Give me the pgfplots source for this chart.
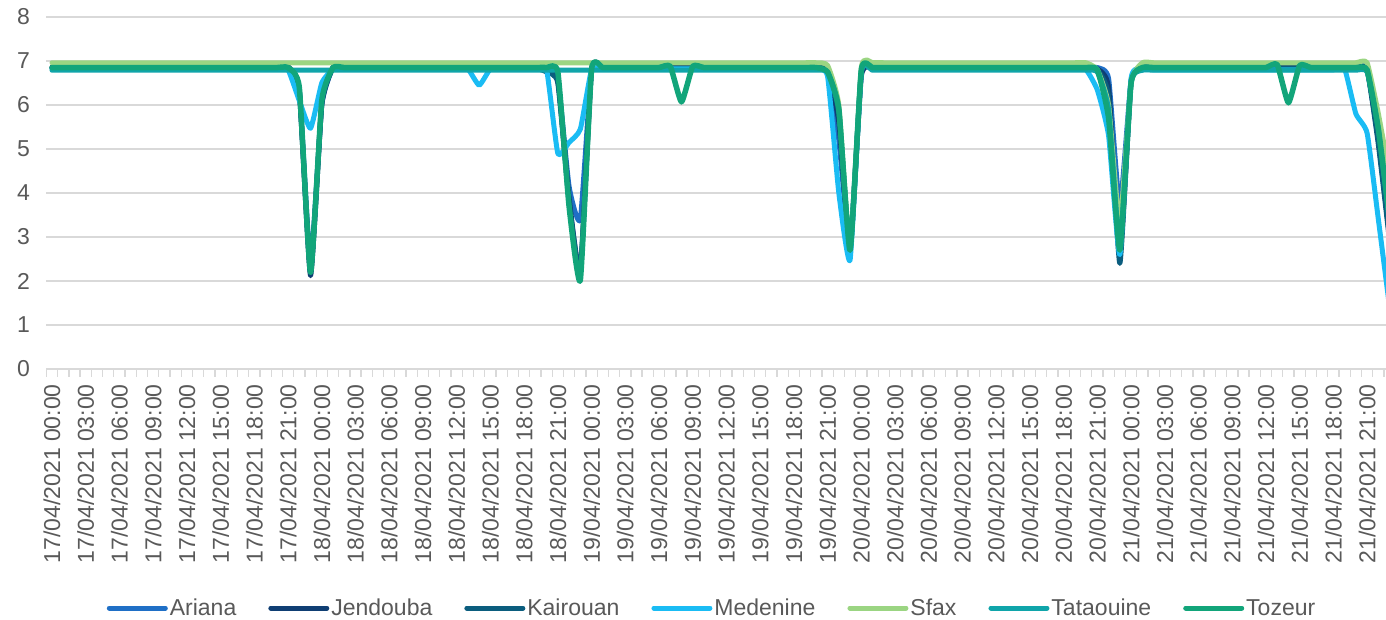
\documentclass[border=0pt]{standalone}
\usepackage{pgfplots}
\pgfplotsset{compat=1.18}
\usepackage{pgfplotstable}
\usepackage{fontspec}
\setmainfont{Liberation Sans}
\definecolor{cAriana}{RGB}{31,111,198}
\definecolor{cJendouba}{RGB}{15,62,115}
\definecolor{cKairouan}{RGB}{11,93,126}
\definecolor{cMedenine}{RGB}{26,188,244}
\definecolor{cSfax}{RGB}{155,213,130}
\definecolor{cTataouine}{RGB}{16,165,170}
\definecolor{cTozeur}{RGB}{18,165,122}
\definecolor{txt}{RGB}{89,89,89}
\definecolor{gridc}{RGB}{217,217,217}

\pgfplotstableread{
h A J K M S Ta To
0 6.85 6.86 6.84 6.82 6.96 6.79 6.85
1 6.85 6.86 6.84 6.82 6.96 6.79 6.85
2 6.85 6.86 6.84 6.82 6.96 6.79 6.85
3 6.85 6.86 6.84 6.82 6.96 6.79 6.85
4 6.85 6.86 6.84 6.82 6.96 6.79 6.85
5 6.85 6.86 6.84 6.82 6.96 6.79 6.85
6 6.85 6.86 6.84 6.82 6.96 6.79 6.85
7 6.85 6.86 6.84 6.82 6.96 6.79 6.85
8 6.85 6.86 6.84 6.82 6.96 6.79 6.85
9 6.85 6.86 6.84 6.82 6.96 6.79 6.85
10 6.85 6.86 6.84 6.82 6.96 6.79 6.85
11 6.85 6.86 6.84 6.82 6.96 6.79 6.85
12 6.85 6.90 6.84 6.82 6.96 6.79 6.85
13 6.85 6.90 6.84 6.82 6.96 6.79 6.85
14 6.85 6.90 6.84 6.82 6.96 6.79 6.85
15 6.85 6.90 6.84 6.82 6.96 6.79 6.85
16 6.85 6.90 6.84 6.82 6.96 6.79 6.85
17 6.85 6.90 6.84 6.82 6.96 6.79 6.85
18 6.85 6.90 6.84 6.82 6.96 6.79 6.85
19 6.85 6.90 6.84 6.82 6.96 6.79 6.85
20 6.85 6.90 6.84 6.82 6.96 6.79 6.85
21 6.85 6.88 6.84 6.80 6.96 6.79 6.85
22 6.35 6.30 6.35 6.10 6.96 6.79 6.40
23 2.40 2.12 2.20 5.47 6.96 6.79 2.20
24 6.00 6.00 6.05 6.50 6.96 6.79 6.10
25 6.85 6.86 6.84 6.82 6.96 6.79 6.85
26 6.85 6.86 6.84 6.82 6.96 6.79 6.85
27 6.85 6.86 6.84 6.82 6.96 6.79 6.85
28 6.85 6.86 6.84 6.82 6.96 6.79 6.85
29 6.85 6.86 6.84 6.82 6.96 6.79 6.85
30 6.85 6.86 6.84 6.82 6.96 6.79 6.85
31 6.85 6.86 6.84 6.82 6.96 6.79 6.85
32 6.85 6.86 6.84 6.82 6.96 6.79 6.85
33 6.85 6.86 6.84 6.82 6.96 6.79 6.85
34 6.85 6.86 6.84 6.82 6.96 6.79 6.85
35 6.85 6.86 6.84 6.82 6.96 6.79 6.85
36 6.85 6.86 6.84 6.82 6.96 6.79 6.85
37 6.85 6.86 6.84 6.82 6.96 6.79 6.85
38 6.85 6.86 6.84 6.45 6.96 6.79 6.85
39 6.85 6.86 6.84 6.82 6.96 6.79 6.85
40 6.85 6.86 6.84 6.82 6.96 6.79 6.85
41 6.85 6.86 6.84 6.82 6.96 6.79 6.85
42 6.85 6.86 6.84 6.82 6.96 6.79 6.85
43 6.85 6.86 6.84 6.82 6.96 6.79 6.85
44 6.85 6.80 6.75 6.80 6.96 6.79 6.85
45 6.60 6.55 6.50 4.90 6.96 6.79 6.75
46 4.15 3.90 3.80 5.15 6.96 6.79 3.70
47 3.40 2.20 2.25 5.45 6.96 6.79 2.02
48 6.80 6.80 6.80 6.80 6.96 6.79 6.80
49 6.85 6.86 6.84 6.82 6.96 6.79 6.85
50 6.85 6.86 6.84 6.82 6.96 6.79 6.85
51 6.85 6.86 6.84 6.82 6.96 6.79 6.85
52 6.85 6.86 6.84 6.82 6.96 6.79 6.85
53 6.85 6.86 6.84 6.82 6.96 6.79 6.85
54 6.85 6.86 6.84 6.82 6.96 6.79 6.85
55 6.85 6.86 6.84 6.82 6.96 6.79 6.88
56 6.85 6.86 6.84 6.82 6.96 6.79 6.07
57 6.85 6.86 6.84 6.82 6.96 6.79 6.88
58 6.85 6.86 6.84 6.82 6.96 6.79 6.85
59 6.85 6.86 6.84 6.82 6.96 6.79 6.85
60 6.85 6.86 6.84 6.82 6.96 6.79 6.85
61 6.85 6.86 6.84 6.82 6.96 6.79 6.85
62 6.85 6.86 6.84 6.82 6.96 6.79 6.85
63 6.85 6.86 6.84 6.82 6.96 6.79 6.85
64 6.85 6.86 6.84 6.82 6.96 6.79 6.85
65 6.85 6.86 6.84 6.82 6.96 6.79 6.85
66 6.85 6.86 6.84 6.82 6.96 6.79 6.85
67 6.85 6.86 6.84 6.82 6.96 6.79 6.85
68 6.85 6.86 6.84 6.82 6.96 6.79 6.85
69 6.80 6.80 6.80 6.65 6.90 6.75 6.75
70 5.20 5.60 5.80 4.00 6.00 5.90 5.90
71 2.80 2.70 2.70 2.48 2.75 2.70 2.70
72 6.75 6.65 6.75 6.75 6.85 6.75 6.80
73 6.85 6.86 6.84 6.82 6.96 6.79 6.85
74 6.85 6.86 6.84 6.82 6.96 6.79 6.85
75 6.85 6.86 6.84 6.82 6.96 6.79 6.85
76 6.85 6.86 6.84 6.82 6.96 6.79 6.85
77 6.85 6.86 6.84 6.82 6.96 6.79 6.85
78 6.85 6.86 6.84 6.82 6.96 6.79 6.85
79 6.85 6.86 6.84 6.82 6.96 6.79 6.85
80 6.85 6.86 6.84 6.82 6.96 6.79 6.85
81 6.85 6.86 6.84 6.82 6.96 6.79 6.85
82 6.85 6.86 6.84 6.82 6.96 6.79 6.85
83 6.85 6.86 6.84 6.82 6.96 6.79 6.85
84 6.85 6.86 6.84 6.82 6.96 6.79 6.85
85 6.85 6.86 6.84 6.82 6.96 6.79 6.85
86 6.85 6.86 6.84 6.82 6.96 6.79 6.85
87 6.85 6.86 6.84 6.82 6.96 6.79 6.85
88 6.85 6.86 6.84 6.82 6.96 6.79 6.85
89 6.85 6.86 6.84 6.82 6.96 6.79 6.85
90 6.85 6.86 6.84 6.82 6.96 6.79 6.85
91 6.85 6.86 6.84 6.82 6.96 6.79 6.85
92 6.85 6.86 6.84 6.80 6.96 6.79 6.85
93 6.85 6.82 6.80 6.34 6.80 6.75 6.80
94 6.60 6.40 6.20 5.30 6.00 5.90 5.70
95 3.70 2.60 2.40 2.60 3.30 2.80 2.70
96 6.55 6.55 6.50 6.60 6.50 6.50 6.50
97 6.85 6.86 6.84 6.80 6.96 6.79 6.85
98 6.85 6.86 6.84 6.80 6.96 6.79 6.85
99 6.85 6.86 6.84 6.80 6.96 6.79 6.85
100 6.85 6.86 6.84 6.80 6.96 6.79 6.85
101 6.85 6.86 6.84 6.80 6.96 6.79 6.85
102 6.85 6.86 6.84 6.80 6.96 6.79 6.85
103 6.85 6.86 6.84 6.80 6.96 6.79 6.85
104 6.85 6.86 6.84 6.80 6.96 6.79 6.85
105 6.85 6.86 6.84 6.80 6.96 6.79 6.85
106 6.85 6.86 6.84 6.80 6.96 6.79 6.85
107 6.85 6.86 6.84 6.80 6.96 6.79 6.85
108 6.85 6.86 6.84 6.80 6.96 6.79 6.85
109 6.85 6.86 6.84 6.80 6.96 6.79 6.92
110 6.85 6.86 6.84 6.80 6.96 6.79 6.05
111 6.85 6.86 6.84 6.80 6.96 6.79 6.90
112 6.85 6.86 6.84 6.80 6.96 6.79 6.85
113 6.85 6.86 6.84 6.80 6.96 6.79 6.85
114 6.85 6.86 6.84 6.80 6.96 6.79 6.85
115 6.85 6.86 6.84 6.82 6.96 6.79 6.85
116 6.85 6.86 6.84 5.80 6.96 6.79 6.85
117 6.85 6.80 6.80 5.36 6.96 6.75 6.80
118 5.30 5.20 5.10 3.40 5.80 5.45 5.45
119 3.00 3.00 2.90 1.40 4.40 3.30 3.40
}\data

\begin{document}
\begin{tikzpicture}
\begin{axis}[
  at={(46.4pt,251pt)}, anchor=south west,
  scale only axis, width=1339.6pt, height=352pt,
  xmin=-0.5, xmax=118.68, ymin=0, ymax=8,
  ytick={0,1,...,8},
  xtick={0,3,...,117},
  xticklabels={
    17/04/2021 00:00,17/04/2021 03:00,17/04/2021 06:00,17/04/2021 09:00,17/04/2021 12:00,17/04/2021 15:00,17/04/2021 18:00,17/04/2021 21:00,
    18/04/2021 00:00,18/04/2021 03:00,18/04/2021 06:00,18/04/2021 09:00,18/04/2021 12:00,18/04/2021 15:00,18/04/2021 18:00,18/04/2021 21:00,
    19/04/2021 00:00,19/04/2021 03:00,19/04/2021 06:00,19/04/2021 09:00,19/04/2021 12:00,19/04/2021 15:00,19/04/2021 18:00,19/04/2021 21:00,
    20/04/2021 00:00,20/04/2021 03:00,20/04/2021 06:00,20/04/2021 09:00,20/04/2021 12:00,20/04/2021 15:00,20/04/2021 18:00,20/04/2021 21:00,
    21/04/2021 00:00,21/04/2021 03:00,21/04/2021 06:00,21/04/2021 09:00,21/04/2021 12:00,21/04/2021 15:00,21/04/2021 18:00,21/04/2021 21:00},
  minor xtick={-0.5,0.5,...,118.5},
  xtick pos=left, ytick pos=left,
  major tick length=0pt, minor tick length=8pt, tick align=outside,
  minor tick style={draw=gridc, line width=1.3pt},
  ymajorgrids, grid style={draw=gridc, line width=1.5pt},
  axis line style={draw=none},
  tick label style={font=\fontsize{23}{27}\selectfont, text=txt},
  /pgf/number format/assume math mode=true,
  yticklabel style={xshift=-13pt},
  xticklabel style={rotate=90, anchor=east, inner xsep=15pt},
  legend columns=7,
  legend style={at={(axis description cs:0.4969,-0.679)}, anchor=center, draw=none, fill=none,
    font=\fontsize{23}{27}\selectfont, text=txt,
    /tikz/every even column/.append style={column sep=30pt}},
  legend image code/.code={\draw[#1, line width=5pt, line cap=round] (0pt,0pt) -- (56pt,0pt);},
  every axis plot/.append style={smooth, tension=0.28, line join=round, line cap=round},
]
\addplot[cAriana, line width=5pt] table[x=h, y=A]{\data}; \addlegendentry{Ariana}
\addplot[cJendouba, line width=5pt] table[x=h, y=J]{\data}; \addlegendentry{Jendouba}
\addplot[cKairouan, line width=5pt] table[x=h, y=K]{\data}; \addlegendentry{Kairouan}
\addplot[cMedenine, line width=5pt] table[x=h, y=M]{\data}; \addlegendentry{Medenine}
\addplot[cSfax, line width=5pt] table[x=h, y=S]{\data}; \addlegendentry{Sfax}
\addplot[cTataouine, line width=5pt] table[x=h, y=Ta]{\data}; \addlegendentry{Tataouine}
\addplot[cTozeur, line width=5.5pt] table[x=h, y=To]{\data}; \addlegendentry{Tozeur}
\end{axis}
\pgfresetboundingbox
\path[use as bounding box] (0,0) rectangle (1386pt,620pt);
\end{tikzpicture}
\end{document}
